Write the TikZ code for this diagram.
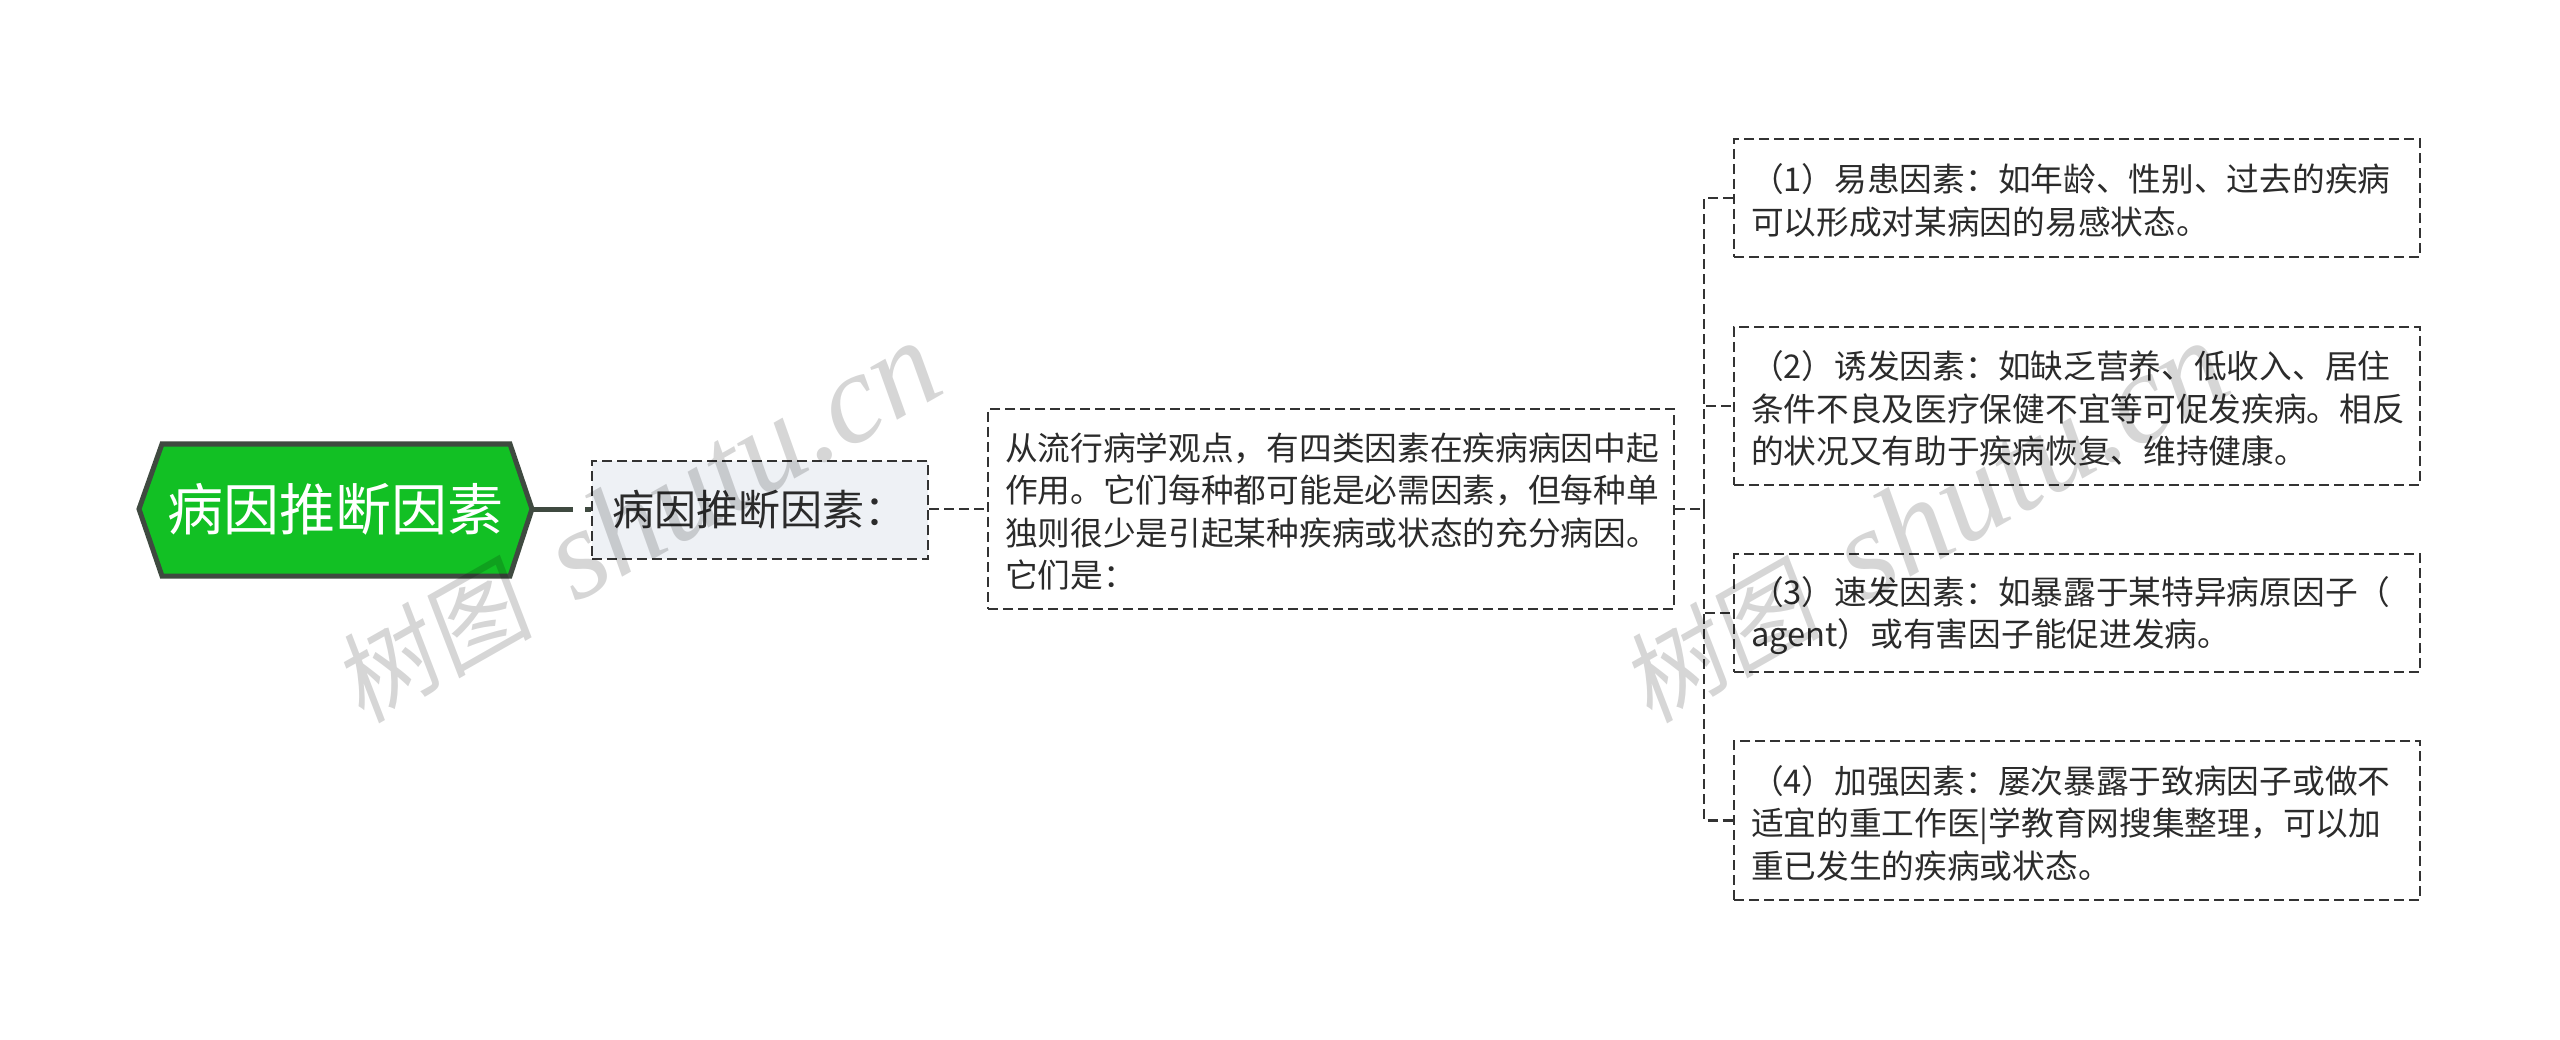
\documentclass[tikz,border=0pt]{standalone}
\usepackage{fontspec}
\setmainfont{Noto Sans CJK SC}
\newfontfamily\wmcjk[FakeSlant=0.15]{Noto Sans CJK SC}
\newfontfamily\wmlat{Liberation Serif}
\definecolor{inkc}{HTML}{2B2B2B}
\definecolor{linec}{HTML}{333333}
\definecolor{rootline}{HTML}{3F4A40}
\definecolor{rootfill}{HTML}{12C024}
\definecolor{subfill}{HTML}{EEF1F5}
\newcommand{\wmtext}{{\fontsize{100}{130}\selectfont\wmcjk 树图}\hspace{45pt}{\fontsize{128}{130}\selectfont\wmlat\itshape shutu.cn}}
\tikzset{
  dashline/.style={draw=linec,line width=2.6pt,dash pattern=on 10pt off 5pt},
  detailbox/.style={dashline,inner xsep=17pt,inner ysep=0pt,text width=652pt,align=left,anchor=center,text=inkc,font=\fontsize{32.7}{42.4}\selectfont,execute at begin node={\rule{0pt}{33pt}}},
  subbox/.style={dashline,fill=subfill,inner sep=0pt,text=inkc,minimum width=336pt,minimum height=98pt,font=\fontsize{42}{50}\selectfont},
  rootnode/.style={inner sep=0pt,text=white,minimum width=393pt,minimum height=134pt,font=\fontsize{56}{66}\selectfont},
  conn/.style={dashline},
  rootconn/.style={draw=rootline,line width=5pt,dash pattern=on 41pt off 12pt on 8pt off 20pt},
  wmark/.style={text=black,text opacity=.16,rotate=29.6,inner sep=0pt},
}
\begin{document}
\begin{tikzpicture}[x=1pt,y=-1pt]
\useasboundingbox (0,0) rectangle (2560,1040);
\fill[white] (0,0) rectangle (2560,1040);
\draw[rootline,fill=rootfill,line width=5pt,line join=miter]
  (139,509) -- (162,444) -- (510,444) -- (532,509) -- (510,576) -- (162,576) -- cycle;
\node[rootnode] (root) at (335.5,509) {病因推断因素};
\node[subbox,align=left,text width=296pt,inner xsep=20pt] (sub) at (760,510) {病因推断因素：};
\node[detailbox,minimum height=200pt] (detail) at (1331,509) {从流行病学观点，有四类因素在疾病病因中起\\作用。它们每种都可能是必需因素，但每种单\\独则很少是引起某种疾病或状态的充分病因。\\它们是：};
\node[detailbox,minimum height=118pt] (f1) at (2077,198) {（1）易患因素：如年龄、性别、过去的疾病\\可以形成对某病因的易感状态。};
\node[detailbox,minimum height=158pt] (f2) at (2077,406) {（2）诱发因素：如缺乏营养、低收入、居住\\条件不良及医疗保健不宜等可促发疾病。相反\\的状况又有助于疾病恢复、维持健康。};
\node[detailbox,minimum height=118pt] (f3) at (2077,613) {（3）速发因素：如暴露于某特异病原因子（\\agent）或有害因子能促进发病。};
\node[detailbox,minimum height=159pt] (f4) at (2077,820.5) {（4）加强因素：屡次暴露于致病因子或做不\\适宜的重工作医|学教育网搜集整理，可以加\\重已发生的疾病或状态。};
\coordinate (hub) at (1704,509);
\draw[rootconn] (root.east) -- (sub.west |- root.east);
\draw[conn] (sub.east |- hub) -- (detail.west);
\draw[conn] (detail.east) -- (hub);
\draw[conn] (hub) |- (f1.west);
\draw[conn] (hub) |- (f2.west);
\draw[conn] (hub) |- (f3.west);
\draw[conn] (hub) |- (f4.west);
\node[wmark] (wm1) at (636,523) {\wmtext};
\node[wmark] (wm2) at (1924,523) {\wmtext};
\end{tikzpicture}
\end{document}
